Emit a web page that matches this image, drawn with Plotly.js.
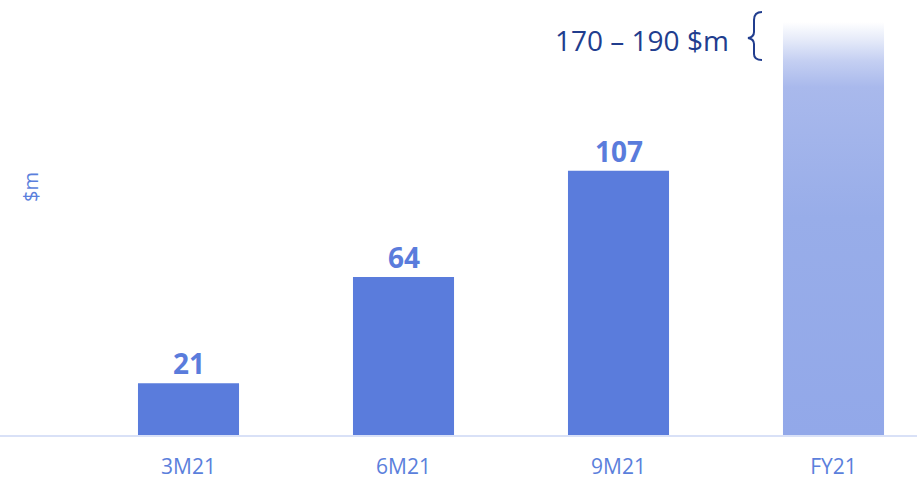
<!DOCTYPE html>
<html>
<head>
<meta charset="utf-8">
<script src="https://cdn.plot.ly/plotly-3.0.1.min.js"></script>
<style>html,body{margin:0;padding:0;background:#fff;}#chart{width:917px;height:481px;}</style>
</head>
<body>
<div id="chart"></div>
<script>
// Data
const categories = ["3M21", "6M21", "9M21", "FY21"];
const actualValues = [21, 64, 107];
const forecastCategory = "FY21";
const forecastValue = 176;
const guidanceLabel = "170 – 190 $m";
const yAxisLabel = "$m";

const W = 917, H = 481, BASE = 435;
const barWidth = 0.47;
const BLUE = "#5a7cdc";
const NAVY = "#213d8e";
const FONT = "Open Sans, Lato, sans-serif";

const xIdx = categories.map((c, i) => i);
const fIdx = categories.indexOf(forecastCategory);

const actualTrace = {
  type: "bar",
  x: xIdx.slice(0, actualValues.length),
  y: actualValues,
  width: barWidth,
  marker: {color: BLUE, line: {width: 0}},
  hoverinfo: "skip"
};

const forecastTrace = {
  type: "scatter",
  mode: "lines",
  x: [fIdx - barWidth / 2, fIdx + barWidth / 2],
  y: [forecastValue, forecastValue],
  line: {width: 0, color: "rgba(0,0,0,0)"},
  fill: "tozeroy",
  fillgradient: {
    type: "vertical",
    colorscale: [
      [0, "#92a8e9"],
      [0.5, "#98ade9"],
      [0.8, "#a9b9ec"],
      [0.86, "#c4cff2"],
      [0.91, "#e6ebf9"],
      [0.95, "#ffffff"],
      [1, "#ffffff"]
    ]
  },
  hoverinfo: "skip"
};

// pixel -> paper helper for decoration
const px = v => v / W;
const py = v => (BASE - v) / BASE;
const bracePath = [
  "M", px(762), py(12),
  "Q", px(754), py(12), px(754), py(20),
  "L", px(754), py(32),
  "Q", px(754), py(37), px(748), py(38),
  "Q", px(754), py(39), px(754), py(44),
  "L", px(754), py(54),
  "Q", px(754), py(60), px(762), py(60)
].map((t, i) => typeof t === "number" ? t.toFixed(5) : t).join(" ")
 .replace(/(\d) (\d|-)/g, "$1,$2");

const valueAnnotations = actualValues.map((v, i) => ({
  text: String(v), x: xIdx[i], y: v, xref: "x", yref: "y",
  xanchor: "center", yanchor: "bottom", yshift: -1, showarrow: false,
  font: {family: FONT, size: 28, color: BLUE, weight: 700}
}));

const layout = {
  width: W, height: H,
  margin: {l: 0, r: 0, t: 0, b: H - BASE},
  paper_bgcolor: "#ffffff",
  plot_bgcolor: "#ffffff",
  showlegend: false,
  font: {family: FONT},
  xaxis: {
    range: [-188.5 / 215, -188.5 / 215 + W / 215],
    tickvals: xIdx,
    ticktext: categories,
    tickfont: {family: FONT, size: 21, color: "#5b7fdc"},
    ticks: "",
    ticklabelstandoff: 12,
    showgrid: false,
    zeroline: false,
    showline: true,
    linecolor: "#d9e1f7",
    linewidth: 2,
    fixedrange: true
  },
  yaxis: {
    range: [0, BASE / 2.47],
    showticklabels: false,
    showgrid: false,
    zeroline: false,
    showline: false,
    fixedrange: true
  },
  annotations: valueAnnotations.concat([
    {
      text: yAxisLabel, xref: "paper", yref: "paper",
      x: px(30), y: py(187), xanchor: "center", yanchor: "middle",
      textangle: -90, showarrow: false,
      font: {family: FONT, size: 20, color: "#5b7fdc"}
    },
    {
      text: guidanceLabel, xref: "paper", yref: "paper",
      x: px(731), y: py(40), xanchor: "right", yanchor: "middle", showarrow: false,
      font: {family: FONT, size: 28, color: NAVY}
    }
  ]),
  shapes: [
    {type: "path", xref: "paper", yref: "paper", path: bracePath,
     line: {color: NAVY, width: 2}}
  ]
};

Plotly.newPlot("chart", [forecastTrace, actualTrace], layout, {displayModeBar: false, staticPlot: true});
</script>
</body>
</html>
